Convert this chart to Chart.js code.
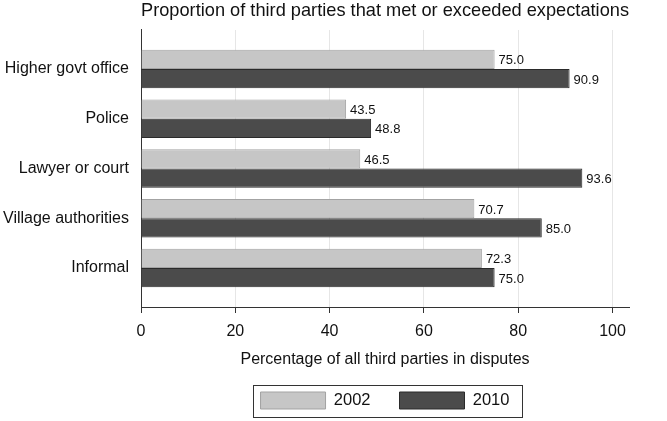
<!DOCTYPE html>
<html>
<head>
<meta charset="utf-8">
<script src="https://cdn.jsdelivr.net/npm/chart.js@4.4.1/dist/chart.umd.min.js"></script>
<style>
  html, body { margin: 0; padding: 0; background: #fff; }
  #wrap { width: 667px; height: 421px; }
</style>
</head>
<body>
<div id="wrap"><canvas id="chart" width="667" height="421"></canvas></div>
<script>
// data
const categories = ['Higher govt office', 'Police', 'Lawyer or court', 'Village authorities', 'Informal'];
const values2002 = [75.0, 43.5, 46.5, 70.7, 72.3];
const values2010 = [90.9, 48.8, 93.6, 85.0, 75.0];
const xTicks = [0, 20, 40, 60, 80, 100];

const FONT = "'Liberation Sans', Arial, Helvetica, sans-serif";
const INK = '#111';

// category index used as the position on a linear y scale
const toPoints = vals => vals.map((v, i) => ({ x: v, y: i }));

// write the value just past the end of each bar
const valueLabels = {
  id: 'valueLabels',
  afterDatasetsDraw(chart) {
    const ctx = chart.ctx;
    ctx.save();
    ctx.font = '13px ' + FONT;
    ctx.fillStyle = INK;
    ctx.textAlign = 'left';
    ctx.textBaseline = 'middle';
    chart.data.datasets.forEach((ds, di) => {
      chart.getDatasetMeta(di).data.forEach((bar, i) => {
        ctx.fillText(ds.data[i].x.toFixed(1), bar.x + 4, bar.y + 1.5);
      });
    });
    ctx.restore();
  }
};

// box round the legend, like the original
const legendFrame = {
  id: 'legendFrame',
  afterDraw(chart) {
    const boxes = chart.legend && chart.legend.legendHitBoxes;
    if (!boxes || !boxes.length) return;
    const first = boxes[0], last = boxes[boxes.length - 1];
    const ctx = chart.ctx;
    ctx.save();
    ctx.strokeStyle = '#333';
    ctx.lineWidth = 1;
    const l = Math.round(first.left - 8) + 0.5;
    const r = Math.round(last.left + last.width + 13) + 0.5;
    const t = Math.round(first.top - 7) + 0.5;
    const b = Math.round(first.top + first.height + 8) + 0.5;
    ctx.strokeRect(l, t, r - l, b - t);
    ctx.restore();
  }
};

new Chart(document.getElementById('chart'), {
  type: 'bar',
  data: {
    datasets: [
      {
        label: '2002',
        data: toPoints(values2002),
        backgroundColor: '#c6c6c6',
        borderColor: '#a3a3a3',
        borderWidth: 1,
        categoryPercentage: 0.77,
        barPercentage: 1.0
      },
      {
        label: '2010',
        data: toPoints(values2010),
        backgroundColor: '#4b4b4b',
        borderColor: '#2a2a2a',
        borderWidth: 1,
        categoryPercentage: 0.77,
        barPercentage: 1.0
      }
    ]
  },
  options: {
    indexAxis: 'y',
    responsive: false,
    animation: false,
    devicePixelRatio: 1,
    layout: { padding: { left: 0, right: 38, top: 0, bottom: 2 } },
    plugins: {
      title: {
        display: true,
        fullSize: false,
        text: 'Proportion of third parties that met or exceeded expectations',
        color: INK,
        font: { family: FONT, size: 18.4, weight: 'normal' },
        padding: { top: 0, bottom: 7.9 }
      },
      legend: {
        position: 'bottom',
        fullSize: false,
        labels: {
          color: INK,
          font: { family: FONT, size: 16.5 },
          boxWidth: 65,
          boxHeight: 17,
          padding: 29
        }
      },
      tooltip: { enabled: false }
    },
    scales: {
      x: {
        type: 'linear',
        min: 0,
        max: 103.5,
        afterBuildTicks: s => { s.ticks = xTicks.map(v => ({ value: v })); },
        afterFit: s => { s.height = 56; },
        grid: { color: '#e6e6e6', tickColor: '#333', tickLength: 6, lineWidth: 1 },
        border: { color: '#333', width: 1 },
        ticks: { color: INK, font: { family: FONT, size: 16 }, padding: 8.6, maxRotation: 0 },
        title: {
          display: true,
          text: 'Percentage of all third parties in disputes',
          color: INK,
          font: { family: FONT, size: 16 },
          padding: { top: 11, bottom: -6.5 }
        }
      },
      y: {
        type: 'linear',
        reverse: true,
        offset: false,
        min: -0.784,
        max: 4.784,
        afterBuildTicks: s => { s.ticks = categories.map((c, i) => ({ value: i })); },
        afterFit: s => { s.width = 141; },
        grid: { display: false, drawTicks: false },
        border: { color: '#333', width: 1 },
        ticks: {
          color: INK,
          font: { family: FONT, size: 16 },
          padding: 12,
          autoSkip: false,
          callback: v => categories[v]
        }
      }
    }
  },
  plugins: [valueLabels, legendFrame]
});
</script>
</body>
</html>
